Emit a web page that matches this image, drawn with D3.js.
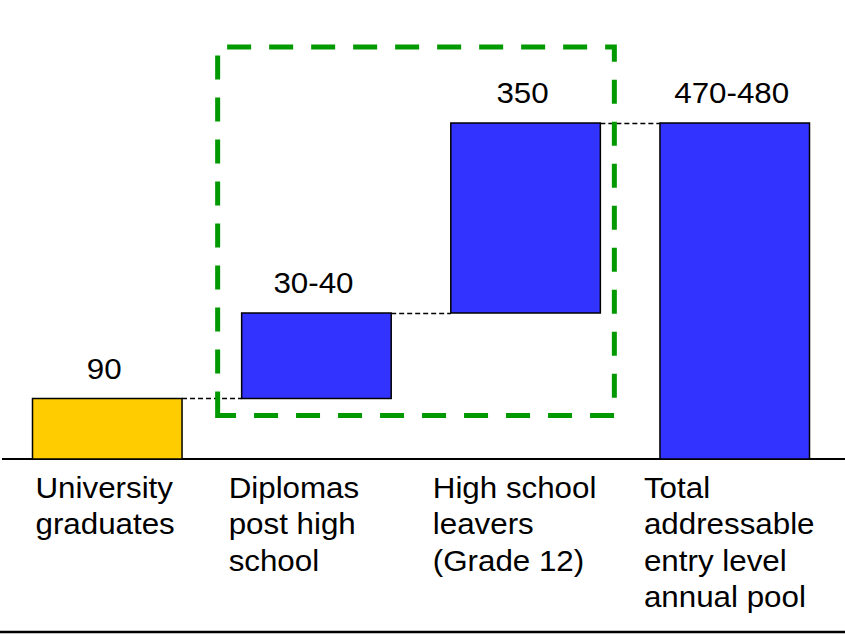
<!DOCTYPE html>
<html>
<head>
<meta charset="utf-8">
<script src="https://cdn.jsdelivr.net/npm/d3@7"></script>
<style>
  html, body { margin: 0; padding: 0; background: #fff; }
  svg { display: block; }
  text { font-family: "Liberation Sans", Arial, sans-serif; fill: #000; }
</style>
</head>
<body>
<svg id="chart" width="845" height="636"></svg>
<script>
// Entry-level talent pool, built up step by step (thousands per year)
const categories = [
  ["University", "graduates"],
  ["Diplomas", "post high", "school"],
  ["High school", "leavers", "(Grade 12)"],
  ["Total", "addressable", "entry level", "annual pool"]
];
const valueLabels = ["90", "30-40", "350", "470-480"];
const stepValues = [90, 35, 350];      // increments (30-40 taken at its midpoint)
const totalValue = 475;                // 470-480 midpoint
const highlighted = [1, 2];            // steps inside the dashed box

const W = 845, H = 636;
const FONT = 29, STRETCH = 1.08;       // slightly wide lettering
const svg = d3.select("#chart");

// waterfall segments: start / end of each bar on the value axis
let run = 0;
const segs = stepValues.map((v, i) => {
  const s = { i, start: run, end: run + v, label: valueLabels[i], total: false };
  run += v;
  return s;
});
segs.push({ i: 3, start: 0, end: totalValue, label: valueLabels[3], total: true });

const x = d3.scaleBand()
  .domain(d3.range(categories.length))
  .range([32.5, 809.5])
  .paddingInner(0.285)
  .paddingOuter(0);

// schematic value axis: piecewise-linear between cumulative levels
const levels = [0, segs[0].end, segs[1].end, segs[2].end];
const y = d3.scaleLinear()
  .domain(levels)
  .range([459, 398.5, 313, 123]);

// baseline
svg.append("line")
  .attr("x1", 2).attr("x2", W)
  .attr("y1", y(0)).attr("y2", y(0))
  .attr("stroke", "#000").attr("stroke-width", 2);

// connectors between steps
segs.slice(0, 3).forEach((s) => {
  const yy = Math.floor(y(s.end)) + 0.5;
  svg.append("line")
    .attr("x1", x(s.i) + x.bandwidth()).attr("x2", x(s.i + 1))
    .attr("y1", yy).attr("y2", yy)
    .attr("stroke", "#000").attr("stroke-width", 1.6)
    .attr("stroke-dasharray", "5,3");
});

// bars
svg.selectAll("rect.bar")
  .data(segs)
  .join("rect")
  .attr("class", "bar")
  .attr("x", d => x(d.i))
  .attr("width", x.bandwidth())
  .attr("y", d => y(d.end))
  .attr("height", d => y(d.start) - y(d.end))
  .attr("fill", d => d.i === 0 ? "#FFCC00" : "#3333FF")
  .attr("stroke", "#000")
  .attr("stroke-width", 1.5);

// value labels above the bars
svg.selectAll("g.val")
  .data(segs)
  .join("g")
  .attr("class", "val")
  .attr("transform", d => `translate(${x(d.i) + x.bandwidth() / 2 - 3},${y(d.end) - 20}) scale(${STRETCH},1)`)
  .append("text")
  .attr("text-anchor", "middle")
  .style("font-size", FONT + "px")
  .text(d => d.label);

// dashed highlight box around the middle steps
const bx0 = x(highlighted[0]) - 24;
const bx1 = x(highlighted[1]) + x.bandwidth() + 14;
const by0 = y(segs[highlighted[1]].end) - 76;
const by1 = y(segs[highlighted[0]].start) + 17;
svg.append("path")
  .attr("d", `M${bx0},${by1} L${bx0},${by0} L${bx1},${by0} L${bx1},${by1} Z`)
  .attr("fill", "none")
  .attr("stroke", "#009900")
  .attr("stroke-width", 5)
  .attr("stroke-dasharray", "24,18");

// category labels
const labelShift = [3, -13, -18, -16];
categories.forEach((lines, i) => {
  const g = svg.append("g")
    .attr("transform", `translate(${x(i) + labelShift[i]},498) scale(${STRETCH},1)`);
  const t = g.append("text").style("font-size", FONT + "px");
  lines.forEach((ln, k) => {
    t.append("tspan")
      .attr("x", 0)
      .attr("dy", k === 0 ? 0 : 36.3)
      .text(ln);
  });
});

// bottom rule
svg.append("line")
  .attr("x1", 0).attr("x2", W)
  .attr("y1", 632).attr("y2", 632)
  .attr("stroke", "#000").attr("stroke-width", 2.5);
</script>
</body>
</html>
